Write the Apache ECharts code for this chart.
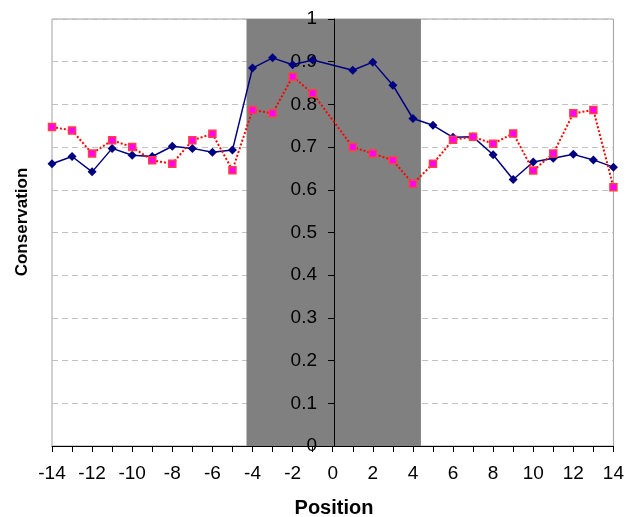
<!DOCTYPE html>
<html>
<head>
<meta charset="utf-8">
<script src="https://cdn.jsdelivr.net/npm/echarts@6/dist/echarts.min.js"></script>
<style>
html,body{margin:0;padding:0;background:#fff;}
#chart{width:627px;height:517px;}
</style>
</head>
<body>
<div id="chart"></div>
<script>
// Data (position 0 has no point)
const positions = [-14,-13,-12,-11,-10,-9,-8,-7,-6,-5,-4,-3,-2,-1,1,2,3,4,5,6,7,8,9,10,11,12,13,14];
const blueValues = [0.661,0.678,0.642,0.697,0.681,0.678,0.702,0.697,0.688,0.693,0.885,0.909,0.893,0.904,0.880,0.899,0.845,0.767,0.751,0.723,0.724,0.682,0.624,0.665,0.674,0.683,0.670,0.653];
const redValues  = [0.747,0.739,0.685,0.716,0.700,0.669,0.661,0.716,0.731,0.646,0.787,0.779,0.865,0.826,0.700,0.685,0.669,0.614,0.661,0.717,0.724,0.708,0.732,0.645,0.685,0.779,0.787,0.606];
const bandRange = [-4.3, 4.4];
const xTickLabels = [-14,-12,-10,-8,-6,-4,-2,0,2,4,6,8,10,12,14];
const yTickLabels = ['0','0.1','0.2','0.3','0.4','0.5','0.6','0.7','0.8','0.9','1'];

const FONT = 'Arial, "Liberation Sans", sans-serif';
const W = 627, GL = 52, GR = 11;
const xMin = -14, xMax = 14;
// shift the y axis inward so that it sits on x = 0
const yAxisOffset = -((0 - xMin) / (xMax - xMin)) * (W - GL - GR);

const chart = echarts.init(document.getElementById('chart'));
const pair = vals => positions.map((p, i) => [p, vals[i]]);

chart.setOption({
  animation: false,
  backgroundColor: '#ffffff',
  grid: { left: GL, right: GR, top: 19, bottom: 71, show: true, borderColor: '#a0a0a0', borderWidth: 1, backgroundColor: 'transparent' },
  xAxis: {
    type: 'value', min: xMin, max: xMax, interval: 2, z: 1,
    axisLine: { onZero: false, lineStyle: { color: '#000', width: 1 } },
    axisTick: { show: true, length: 6, lineStyle: { color: '#000' } },
    minorTick: { show: true, splitNumber: 2, length: 6, lineStyle: { color: '#000' } },
    splitLine: { show: false },
    axisLabel: { margin: 18, fontSize: 19, fontFamily: FONT, color: '#000',
      formatter: v => xTickLabels.includes(v) ? String(v) : '' }
  },
  yAxis: {
    type: 'value', min: 0, max: 1, interval: 0.1, z: 1,
    position: 'left', offset: yAxisOffset,
    axisLine: { onZero: false, lineStyle: { color: '#000', width: 1 } },
    axisTick: { show: true, inside: false, length: 6, lineStyle: { color: '#000' } },
    splitLine: { show: true, lineStyle: { color: '#c0c0c0', type: [6, 4], width: 1 } },
    axisLabel: { margin: 17, fontSize: 19, fontFamily: FONT, color: '#000',
      formatter: v => yTickLabels[Math.round(v * 10)] }
  },
  graphic: [
    { type: 'text', x: 22, y: 222, rotation: Math.PI / 2,
      style: { text: 'Conservation', font: 'bold 17px ' + FONT, fill: '#000', textAlign: 'center', textVerticalAlign: 'middle' } },
    { type: 'text', x: 334, y: 508,
      style: { text: 'Position', font: 'bold 20px ' + FONT, fill: '#000', textAlign: 'center', textVerticalAlign: 'middle' } }
  ],
  series: [
    {
      type: 'line', data: [], z: 0, silent: true,
      markArea: { silent: true, itemStyle: { color: '#808080', opacity: 1 },
        data: [[{ xAxis: bandRange[0] }, { xAxis: bandRange[1] }]] }
    },
    {
      type: 'line', name: 'blue', data: pair(blueValues), z: 3,
      symbol: 'diamond', symbolSize: 9,
      itemStyle: { color: '#000080' },
      lineStyle: { color: '#000080', width: 1.5 }
    },
    {
      type: 'line', name: 'red', data: pair(redValues), z: 4,
      symbol: 'rect', symbolSize: 7,
      itemStyle: { color: '#ff00ff', borderColor: '#ff4040', borderWidth: 1.5 },
      lineStyle: { color: '#ff0000', width: 2, type: 'dotted' }
    }
  ]
});
</script>
</body>
</html>
